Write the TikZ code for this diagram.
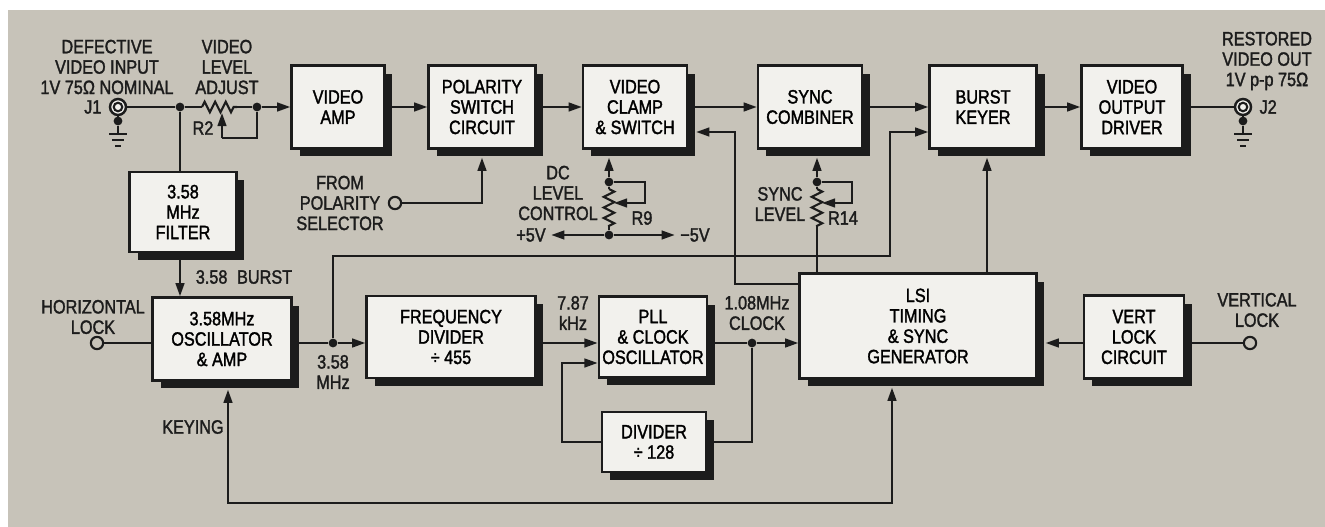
\documentclass[tikz,border=0pt]{standalone}
\usepackage{fontspec}
\setmainfont{Liberation Sans}[FakeStretch=0.84, FakeBold=1.6]
\usetikzlibrary{positioning, arrows.meta, calc, shadows, decorations.pathmorphing}

\definecolor{panel}{RGB}{199,195,185}
\definecolor{boxfill}{RGB}{242,241,237}
\definecolor{ink}{RGB}{28,28,28}

\pgfdeclarelayer{panellayer}
\pgfdeclarelayer{wirelayer}
\pgfsetlayers{panellayer,wirelayer,main}

\tikzset{
  earth/.pic={\draw[ink, line width=1.2pt] (0,0) -- (0,4) (-9,4) -- (9,4) (-6,10) -- (6,10) (-3,16) -- (3,16);}
}

\begin{document}
\begin{tikzpicture}[
    x=0.02cm, y=-0.02cm,
    font=\fontsize{11}{11.6}\selectfont,
    blk/.style={draw=ink, fill=boxfill, line width=1.4pt, align=center, inner sep=2pt,
                minimum width=2.08cm, minimum height=1.66cm,
                general shadow={fill=ink, shadow xshift=0.16cm, shadow yshift=-0.16cm}},
    lbl/.style={align=center, inner sep=1pt, text=ink},
    wire/.style={draw=ink, line width=1.2pt},
    sig/.style={wire, -{Triangle[length=7.5pt, width=5pt]}},
    twoway/.style={wire, {Triangle[length=7.5pt, width=5pt]}-{Triangle[length=7.5pt, width=5pt]}},
    res/.style={wire, decorate, decoration={zigzag, segment length=6pt, amplitude=3pt}},
    jdot/.style={circle, fill=ink, inner sep=0pt, minimum size=5pt},
    term/.style={circle, draw=ink, fill=panel, line width=1.2pt, inner sep=0pt, minimum size=7pt},
    jack/.style={circle, draw=ink, fill=boxfill, line width=1.4pt, inner sep=0pt, minimum size=0.32cm}
]
\useasboundingbox (0,0) rectangle (1325,527);
\begin{pgfonlayer}{panellayer}
\fill[white] (0,0) rectangle (1325,527);
\fill[panel] (8,10) rectangle (1325,527);
\end{pgfonlayer}

\node[blk, minimum width=1.86cm] (vamp) at (338,107) {VIDEO\\AMP};
\node[blk, minimum width=2.14cm] (polsw) at (482,107) {POLARITY\\SWITCH\\CIRCUIT};
\node[blk] (clamp) at (635,107) {VIDEO\\CLAMP\\\& SWITCH};
\node[blk] (sync) at (810,107) {SYNC\\COMBINER};
\node[blk, minimum width=2.14cm] (keyer) at (983,107) {BURST\\KEYER};
\node[blk, minimum width=2.02cm] (vout) at (1132,107) {VIDEO\\OUTPUT\\DRIVER};
\node[blk, minimum width=2.14cm, minimum height=1.60cm] (filter) at (183,212) {3.58\\MHz\\FILTER};
\node[blk, minimum width=2.78cm] (osc) at (222,339) {3.58MHz\\OSCILLATOR\\\& AMP};
\node[blk, minimum width=3.38cm, minimum height=1.64cm] (fdiv) at (451,337) {FREQUENCY\\DIVIDER\\÷ 455};
\node[blk, minimum width=2.06cm, minimum height=1.62cm] (pll) at (653,337) {PLL\\\& CLOCK\\OSCILLATOR};
\node[blk, minimum height=1.20cm] (div) at (654,442) {DIVIDER\\÷ 128};
\node[blk, minimum width=4.74cm, minimum height=2.10cm] (lsi) at (918,326) {LSI\\TIMING\\\& SYNC\\GENERATOR};
\node[blk, minimum width=2.00cm] (vlock) at (1134,337) {VERT\\LOCK\\CIRCUIT};

\node[jack] (j1) at (118,107) {};
\node[jack] (j2) at (1243,107) {};
\draw[ink, line width=1.2pt] (j1) circle[radius=0.085cm] (j2) circle[radius=0.085cm];
\node[jdot] (j1d) at (118,121) {};
\node[jdot] (j2d) at (1243,121) {};
\pic at (118,130) {earth};
\pic at (1243,130) {earth};
\node[jdot] (d1) at (180,107) {};
\node[jdot] (d2) at (257,107) {};
\node[jdot] (d3) at (333,343) {};
\node[jdot] (d4) at (752,343) {};
\node[jdot] (r9t) at (609,182) {};
\node[jdot] (r9b) at (609,235) {};
\node[jdot] (r14t) at (817,182) {};
\node[term] (tpol) at (395,203) {};
\node[term] (thor) at (97,343) {};
\node[term] (tver) at (1250,343) {};

\coordinate (r2a) at (202,107);
\coordinate (r2b) at (237,107);
\coordinate (r2m) at (222,113);
\coordinate (r2w) at (222,138);
\coordinate (r9a) at (609,189);
\coordinate (r9c) at (609,226);
\coordinate (r9w) at (645,203);
\coordinate (r9m) at (614,203);
\coordinate (r14a) at (817,189);
\coordinate (r14c) at (817,226);
\coordinate (r14w) at (852,203);
\coordinate (r14m) at (822,203);
\coordinate (cl1) at (735,284);
\coordinate (cl2) at (735,132);
\coordinate (bk1) at (333,256);
\coordinate (bk2) at (890,256);
\coordinate (bk3) at (890,132);
\coordinate (fb) at (562,363);
\coordinate (k1) at (228,503);
\coordinate (k2) at (892,503);

\node[lbl] (tin) at (107,67) {DEFECTIVE\\VIDEO INPUT\\1V 75Ω NOMINAL};
\node[lbl, left=3pt of j1] (lj1) {J1};
\node[lbl] (tadj) at (227,67) {VIDEO\\LEVEL\\ADJUST};
\node[lbl] (lr2) at (203,128) {R2};
\node[lbl] (tsel) at (340,203) {FROM\\POLARITY\\SELECTOR};
\node[lbl] (tdc) at (558,193) {DC\\LEVEL\\CONTROL};
\node[lbl] (lr9) at (642,218) {R9};
\node[lbl] (p5) at (531,235) {+5V};
\node[lbl] (m5) at (695,235) {−5V};
\node[lbl] (tsl) at (780,204) {SYNC\\LEVEL};
\node[lbl] (lr14) at (843,218) {R14};
\node[lbl] (tout) at (1267,61) {RESTORED\\VIDEO OUT\\1V p-p 75Ω};
\node[lbl, right=3pt of j2] (lj2) {J2};
\node[lbl] (tburst) at (244,277) {3.58\enspace BURST};
\node[lbl] (thl) at (93,317) {HORIZONTAL\\LOCK};
\node[lbl] (tmhz) at (333,372) {3.58\\MHz};
\node[lbl] (tkey) at (193,427) {KEYING};
\node[lbl] (tkhz) at (573,313) {7.87\\kHz};
\node[lbl] (tclk) at (757,313) {1.08MHz\\CLOCK};
\node[lbl] (tvl) at (1257,310) {VERTICAL\\LOCK};

\begin{pgfonlayer}{wirelayer}
\draw[wire] (j1) -- (d1) -- (r2a);
\draw[res] (r2a) -- (r2b);
\draw[wire] (r2b) -- (d2);
\draw[sig] (d2) -- (vamp.west);
\draw[sig] (r2w) -- (r2m);
\draw[wire] (r2w) -| (d2);
\draw[wire] (j1) -- (j1d) -- (118,130);
\draw[wire] (j2) -- (j2d) -- (1243,130);
\draw[wire] (d1) -- (d1 |- filter.north);
\draw[sig] (vamp) -- (polsw);
\draw[sig] (polsw) -- (clamp);
\draw[sig] (clamp) -- (sync);
\draw[sig] (sync) -- (keyer);
\draw[sig] (keyer) -- (vout);
\draw[wire] (vout) -- (j2);
\draw[sig] (tpol) -| ($(polsw.south)+(0,8)$);
\draw[sig] (lsi.west |- cl1) -- (cl1) -- (cl2) -- ($(clamp.east |- cl2)+(8,0)$);
\draw[sig] (d3) -- (bk1) -- (bk2) -- (bk3) -- (keyer.west |- bk3);
\draw[sig] (lsi.north -| 987,0) -- ($(keyer.south -| 987,0)+(0,8)$);
\draw[sig] (r9t) -- ($(clamp.south -| r9t)+(0,8)$);
\draw[wire] (r9t) -- (r9a);
\draw[res] (r9a) -- (r9c);
\draw[wire] (r9c) -- (r9b);
\draw[sig] (r9t) -| (r9w) -- (r9m);
\draw[sig, shorten >=2pt] (r9b) -- (p5);
\draw[sig, shorten >=2pt] (r9b) -- (m5);
\draw[sig] (r14t) -- ($(sync.south -| r14t)+(0,8)$);
\draw[wire] (r14t) -- (r14a);
\draw[res] (r14a) -- (r14c);
\draw[wire] (r14c) -- (r14c |- lsi.north);
\draw[sig] (r14t) -| (r14w) -- (r14m);
\draw[sig] (filter.south -| d1) -- (d1 |- osc.north);
\draw[wire] (thor) -- (osc.west |- thor);
\draw[wire] (osc.east |- d3) -- (d3);
\draw[sig] (d3) -- (fdiv.west |- d3);
\draw[sig] (fdiv.east |- d3) -- (pll.west |- d3);
\draw[wire] (pll.east |- d4) -- (d4);
\draw[sig] (d4) -- (lsi.west |- d4);
\draw[wire] (d4) |- (div.east);
\draw[sig] (div.west) -| (fb) -- (pll.west |- fb);
\draw[sig] (vlock.west |- d4) -- ($(lsi.east |- d4)+(8,0)$);
\draw[wire] (vlock.east |- tver) -- (tver);
\draw[twoway] ($(osc.south -| k1)+(0,8)$) -- (k1) -- (k2) -- ($(lsi.south -| k2)+(0,8)$);
\end{pgfonlayer}
\end{tikzpicture}
\end{document}
